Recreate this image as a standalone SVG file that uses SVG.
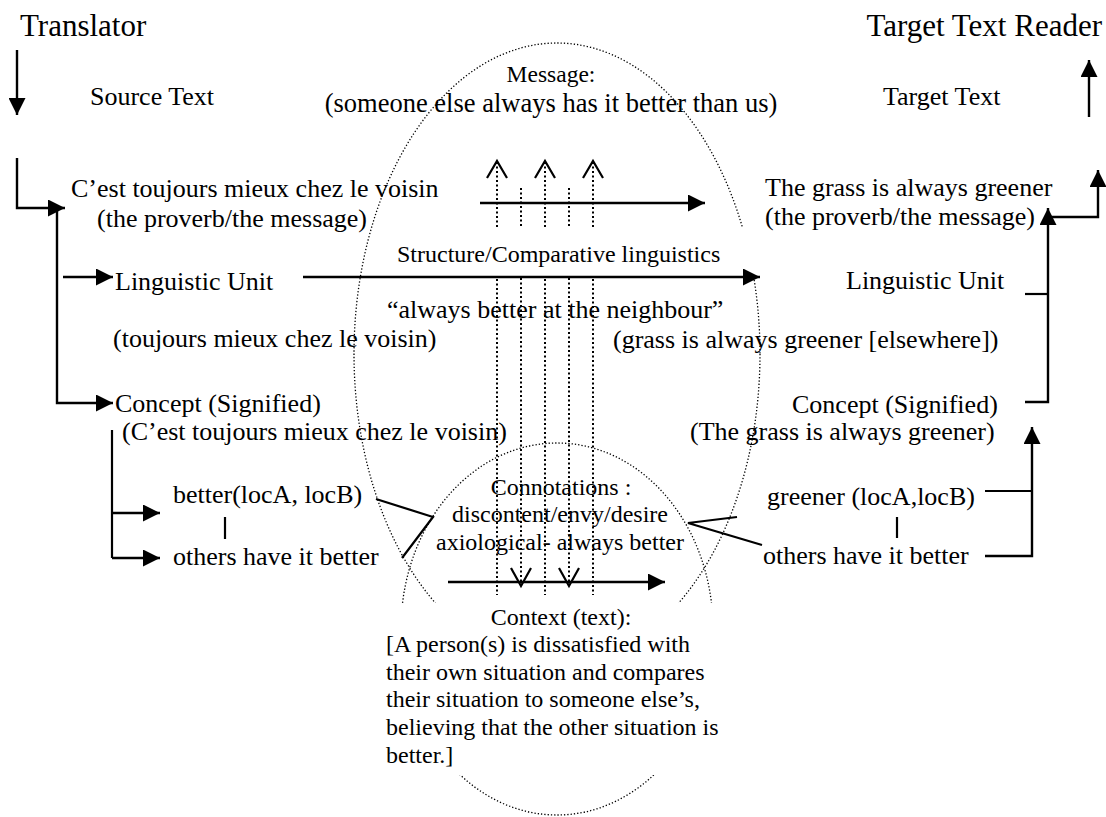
<svg xmlns="http://www.w3.org/2000/svg" width="1106" height="817" viewBox="0 0 1106 817">
  <style>
    text { font-family: "Liberation Serif", "Times New Roman", serif; fill: #000; }
    .t26 { font-size: 26px; }
    .t24 { font-size: 24px; }
    .big { font-size: 31px; }
    .mid { text-anchor: middle; }
    .end { text-anchor: end; }
    .ring { fill: none; stroke: #000; stroke-width: 1.3; stroke-dasharray: 1.3 2; }
    .dots { fill: none; stroke: #000; stroke-width: 2; stroke-dasharray: 2 2.5; }
    .chev { fill: none; stroke: #000; stroke-width: 2.2; }
    .line { fill: none; stroke: #000; stroke-width: 2.2; }
    .arrow { fill: none; stroke: #000; stroke-width: 2.4; marker-end: url(#head); }
    .mask { fill: #fff; stroke: none; }
  </style>
  <defs>
    <marker id="head" markerUnits="userSpaceOnUse" markerWidth="17" markerHeight="17" viewBox="0 0 16 16" refX="16" refY="8" orient="auto">
      <path d="M0,0 L16,8 L0,16 z" fill="#000"/>
    </marker>
  </defs>

  <rect width="1106" height="817" fill="#fff"/>

  <!-- dotted regions: message ellipse and connotations ellipse -->
  <g id="regions">
    <ellipse class="ring" cx="557" cy="354" rx="203" ry="311"/>
    <ellipse class="ring" cx="557" cy="629" rx="156" ry="186"/>
  </g>

  <!-- dotted vertical links between message and connotations -->
  <g id="links">
    <line class="dots" x1="497" y1="162" x2="497" y2="595"/>
    <line class="dots" x1="521" y1="188" x2="521" y2="585"/>
    <line class="dots" x1="545" y1="162" x2="545" y2="595"/>
    <line class="dots" x1="569" y1="188" x2="569" y2="585"/>
    <line class="dots" x1="593" y1="162" x2="593" y2="595"/>
    <polyline class="chev" points="487,178 497,161 507,178"/>
    <polyline class="chev" points="535,178 545,161 555,178"/>
    <polyline class="chev" points="583,178 593,161 603,178"/>
    <polyline class="chev" points="511,568 521,586 531,568"/>
    <polyline class="chev" points="559,568 569,586 579,568"/>
  </g>

  <!-- opaque label boxes -->
  <rect class="mask" x="384" y="228" width="377" height="48"/>
  <rect class="mask" x="378" y="603" width="345" height="172"/>

  <g id="connectors">
    <line class="arrow" x1="17" y1="50" x2="17" y2="115"/>
    <line class="arrow" x1="1089" y1="117" x2="1089" y2="60"/>
    <path class="arrow" d="M17,158 V208 H65"/>
    <path class="arrow" d="M57,210 V403 H113"/>
    <path class="arrow" d="M63,277 H113"/>
    <path class="arrow" d="M303,277 H760"/>
    <path class="arrow" d="M480,203 H705"/>
    <path class="arrow" d="M448,582 H665"/>
    <path class="line" d="M112,430 V558"/>
    <path class="arrow" d="M112,513 H160"/>
    <path class="arrow" d="M112,558 H160"/>
    <path class="line" d="M225,517 V539"/>
    <path class="line" d="M376,499 L433,517 L402,558"/>
    <path class="line" d="M737,517 L688,523 L762,545"/>
    <path class="line" d="M897,517 V538"/>
    <path class="line" d="M985,491 H1032"/>
    <path class="arrow" d="M985,556 H1032 V427"/>
    <path class="arrow" d="M1025,402 H1048 V208"/>
    <path class="line" d="M1025,294 H1048"/>
    <path class="arrow" d="M1048,217 H1098 V170"/>
  </g>

  <g id="translator"><text class="big" x="20" y="36">Translator</text></g>
  <g id="reader"><text class="big end" x="1102" y="36">Target Text Reader</text></g>
  <g id="source-text"><text class="t26" x="90" y="105">Source Text</text></g>
  <g id="target-text"><text class="t26" x="883" y="105">Target Text</text></g>

  <g id="message">
    <text class="mid" style="font-size:23.5px" x="551" y="82">Message:</text>
    <text class="mid" style="font-size:26.5px" x="551" y="112">(someone else always has it better than us)</text>
  </g>

  <g id="source-proverb">
    <text class="t26" x="71" y="197">C’est toujours mieux chez le voisin</text>
    <text class="t26" x="97" y="227">(the proverb/the message)</text>
  </g>
  <g id="target-proverb">
    <text class="t26" x="765" y="196">The grass is always greener</text>
    <text class="t26" x="765" y="225">(the proverb/the message)</text>
  </g>

  <g id="structure"><text class="t24" x="397" y="262">Structure/Comparative linguistics</text></g>

  <g id="source-unit">
    <text class="t26" x="115" y="290">Linguistic Unit</text>
    <text class="t26" x="113" y="347">(toujours mieux chez le voisin)</text>
  </g>
  <g id="gloss"><text class="t26" x="387" y="318">“always better at the neighbour”</text></g>
  <g id="target-unit">
    <text class="t26" x="846" y="289">Linguistic Unit</text>
    <text class="t26" x="613" y="348">(grass is always greener [elsewhere])</text>
  </g>

  <g id="source-concept">
    <text class="t26" x="115" y="412">Concept (Signified)</text>
    <text class="t26" x="122" y="440">(C’est toujours mieux chez le voisin)</text>
  </g>
  <g id="target-concept">
    <text class="t26" x="792" y="413">Concept (Signified)</text>
    <text class="t26" x="690" y="440">(The grass is always greener)</text>
  </g>

  <g id="source-semes">
    <text class="t26" x="173" y="503">better(locA, locB)</text>
    <text class="t26" x="173" y="565">others have it better</text>
  </g>
  <g id="target-semes">
    <text class="t26" x="767" y="505">greener (locA,locB)</text>
    <text class="t26" x="763" y="564">others have it better</text>
  </g>

  <g id="connotations">
    <text class="t24 mid" x="561" y="495">Connotations :</text>
    <text class="t24 mid" x="560" y="522">discontent/envy/desire</text>
    <text class="t24 mid" x="560" y="550">axiological- always better</text>
  </g>

  <g id="context">
    <text class="t24 mid" x="561" y="625">Context (text):</text>
    <text class="t24" x="386" y="652">[A person(s) is dissatisfied with</text>
    <text class="t24" x="386" y="680">their own situation and compares</text>
    <text class="t24" x="386" y="707">their situation to someone else’s,</text>
    <text class="t24" x="386" y="735">believing that the other situation is</text>
    <text class="t24" x="386" y="763">better.]</text>
  </g>
</svg>
